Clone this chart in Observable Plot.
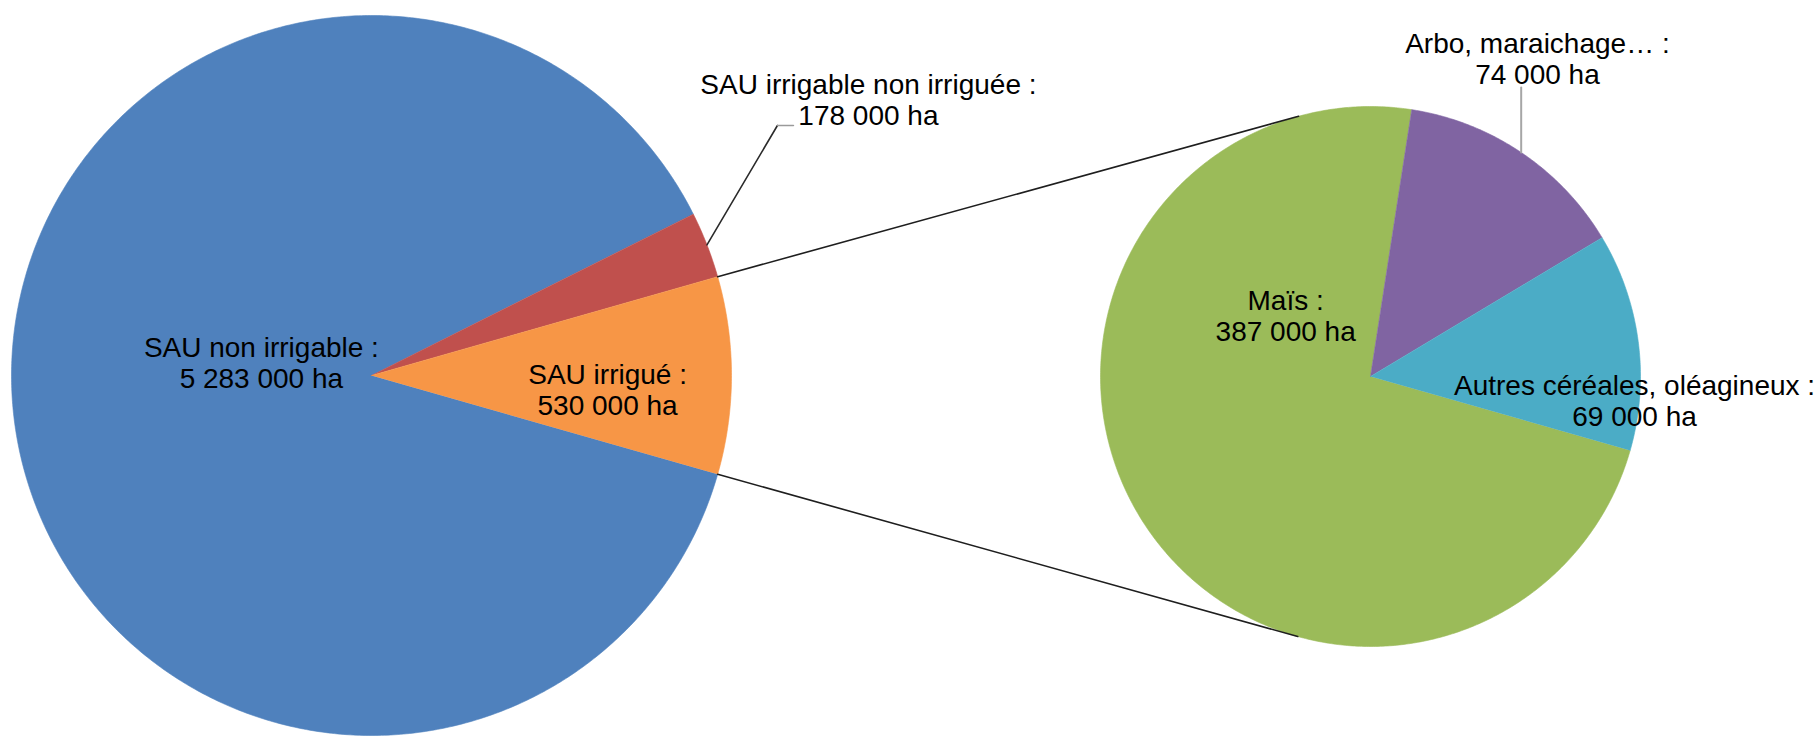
<!DOCTYPE html>
<html>
<head>
<meta charset="utf-8">
<script src="https://cdn.jsdelivr.net/npm/d3@7"></script>
<script src="https://cdn.jsdelivr.net/npm/@observablehq/plot@0.6"></script>
<style>
  html, body { margin: 0; padding: 0; background: #ffffff; }
  #chart svg { display: block; }
</style>
</head>
<body>
<div id="chart"></div>
<script>
// ---------- DATA ----------
const mainCategories = ["SAU non irrigable", "SAU irrigable non irriguée", "SAU irrigué"];
const mainValues = [5283000, 178000, 530000];
const detailCategories = ["Maïs", "Arbo, maraichage…", "Autres céréales, oléagineux"];
const detailValues = [387000, 74000, 69000];
const unitLabel = "ha";

// ---------- STYLE / LAYOUT ----------
const mainColors = ["#4f81bd", "#c0504d", "#f79646"];
const detailColors = ["#9bbb59", "#8064a2", "#4bacc6"];
const W = 1818, H = 736;
const mainPie = {cx: 371, cy: 375, r: 360};
const detailPie = {cx: 1370, cy: 376, r: 270};
// label placement: polar position relative to its pie (angle clockwise from 12 o'clock, radius fraction)
const mainLabelPolar = [[276.7, 0.308], [60.95, 1.579], [93.4, 0.657]];
const detailLabelPolar = [[305.7, 0.387], [27.7, 1.330], [95.2, 0.982]];

// ---------- GEOMETRY ----------
const deg = Math.PI / 180;
const fmt = d3.formatLocale({decimal: ",", thousands: " ", grouping: [3], currency: ["", ""]}).format(",d");
// the exploded slice (last of the main pie) is centred at 3 o'clock
const startDeg = 90 + 180 * mainValues[mainValues.length - 1] / d3.sum(mainValues);

function sliceAngles(values) {
  const total = d3.sum(values);
  let a = startDeg;
  return values.map(v => { const a0 = a; a += 360 * v / total; return [a0, a]; });
}
function polar(pie, aDeg, f) {
  return [pie.cx + pie.r * f * Math.sin(aDeg * deg), pie.cy - pie.r * f * Math.cos(aDeg * deg)];
}
function slicePolygons(cats, vals, pie) {
  const angles = sliceAngles(vals);
  const pts = [];
  cats.forEach((c, i) => {
    const [a0, a1] = angles[i];
    const n = Math.max(2, Math.ceil((a1 - a0) / 0.5));
    pts.push({key: c, x: pie.cx, y: pie.cy});
    for (let k = 0; k <= n; k++) {
      const [x, y] = polar(pie, a0 + (a1 - a0) * k / n, 1);
      pts.push({key: c, x, y});
    }
  });
  return pts;
}
function tangentPoint(P, pie, upper) {
  const dx = P[0] - pie.cx, dy = P[1] - pie.cy, d = Math.hypot(dx, dy);
  const phi = Math.atan2(dy, dx), beta = Math.acos(pie.r / d);
  const c = [phi + beta, phi - beta].map(t => [pie.cx + pie.r * Math.cos(t), pie.cy + pie.r * Math.sin(t)]);
  return upper ? (c[0][1] < c[1][1] ? c[0] : c[1]) : (c[0][1] > c[1][1] ? c[0] : c[1]);
}

const mainAngles = sliceAngles(mainValues);
const detailAngles = sliceAngles(detailValues);
const slices = [
  ...slicePolygons(mainCategories, mainValues, mainPie),
  ...slicePolygons(detailCategories, detailValues, detailPie)
];

// connector lines: tangents from the exploded slice edges to the detail pie
const [ea0, ea1] = mainAngles[mainAngles.length - 1];
const pUp = polar(mainPie, ea0, 1), pLo = polar(mainPie, ea1, 1);
const tUp = tangentPoint(pUp, detailPie, true), tLo = tangentPoint(pLo, detailPie, false);
const connectors = [
  {id: "up", x: pUp[0], y: pUp[1]}, {id: "up", x: tUp[0], y: tUp[1]},
  {id: "lo", x: pLo[0], y: pLo[1]}, {id: "lo", x: tLo[0], y: tLo[1]}
];

// labels
const labels = [];
mainCategories.forEach((c, i) => {
  const [x, y] = polar(mainPie, mainLabelPolar[i][0], mainLabelPolar[i][1]);
  labels.push({x, y, text: `${c} :\n${fmt(mainValues[i])} ${unitLabel}`});
});
detailCategories.forEach((c, i) => {
  const [x, y] = polar(detailPie, detailLabelPolar[i][0], detailLabelPolar[i][1]);
  labels.push({x, y, text: `${c} :\n${fmt(detailValues[i])} ${unitLabel}`});
});

// leader lines for labels placed outside their slice
const redMid = (mainAngles[1][0] + mainAngles[1][1]) / 2;
const redStart = polar(mainPie, redMid, 1);
const redLabel = labels[1];
const redLeader = [
  {x: redStart[0], y: redStart[1]},
  {x: redLabel.x - 91, y: redLabel.y + 26}
];
const redStub = [
  {x: redLabel.x - 91, y: redLabel.y + 26},
  {x: redLabel.x - 75, y: redLabel.y + 26}
];
const arboMid = (detailAngles[1][0] + detailAngles[1][1]) / 2;
const arboStart = polar(detailPie, arboMid, 1);
const arboLabel = labels[4];
const arboLeader = [
  {x: arboStart[0], y: arboStart[1]},
  {x: arboStart[0], y: arboLabel.y + 29}
];

const chart = Plot.plot({
  width: W,
  height: H,
  margin: 0,
  x: {domain: [0, W], range: [0, W], axis: null},
  y: {domain: [0, H], range: [0, H], axis: null},
  color: {type: "ordinal", domain: [...mainCategories, ...detailCategories], range: [...mainColors, ...detailColors]},
  style: {background: "#ffffff", fontFamily: "'Liberation Sans', Arial, sans-serif"},
  marks: [
    Plot.line(slices, {x: "x", y: "y", z: "key", fill: "key", stroke: "key", strokeWidth: 0.6}),
    Plot.line(connectors, {x: "x", y: "y", z: "id", stroke: "#1e1e1e", strokeWidth: 1.6}),
    Plot.line(redLeader, {x: "x", y: "y", stroke: "#2a2a2a", strokeWidth: 1.6}),
    Plot.line(redStub, {x: "x", y: "y", stroke: "#9a9a9a", strokeWidth: 1.6}),
    Plot.line(arboLeader, {x: "x", y: "y", stroke: "#a6a6a6", strokeWidth: 2}),
    Plot.text(labels, {x: "x", y: "y", text: "text", fontSize: 28, lineHeight: 1.1, lineAnchor: "middle", textAnchor: "middle", fill: "#000000"})
  ]
});
document.getElementById("chart").appendChild(chart);
</script>
</body>
</html>
